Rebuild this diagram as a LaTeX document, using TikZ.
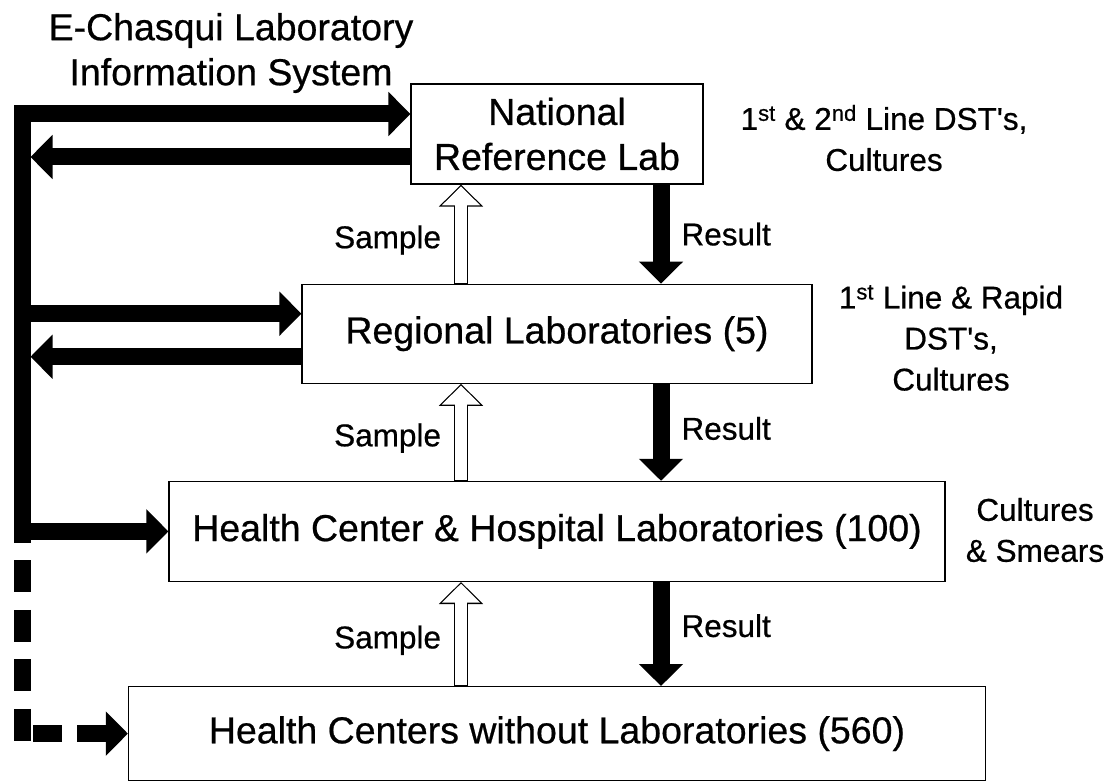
\documentclass[tikz,border=0pt]{standalone}
\usepackage{fontspec}
\setmainfont{Liberation Sans}[FakeBold=0.6]
\usetikzlibrary{positioning}
\usetikzlibrary{arrows.meta}
\tikzset{>={Triangle[length=22pt,width=43pt]}}

\begin{document}
\begin{tikzpicture}[x=1pt, y=1pt, labbox/.style={draw=black, line width=1.2pt, align=center, inner sep=0pt, font=\fontsize{37.5pt}{45pt}\selectfont}, note/.style={align=center, inner sep=0pt, font=\fontsize{31.5pt}{41pt}\selectfont}, tag/.style={inner sep=2pt, font=\fontsize{31.5pt}{38pt}\selectfont}, bus/.style={line width=17pt, line join=miter}, result/.style={line width=17pt, ->}, sample/.style={line width=14pt, ->, postaction={draw=white, line width=11.4pt, shorten <=1pt, shorten >=1.7pt, -{Triangle[length=19pt,width=37pt]}}}]

    \useasboundingbox (0,0) rectangle (1110,780);

    %Nodes
    \node[labbox, minimum width=292pt, minimum height=100pt](nrl) at (557,646){National\\Reference Lab};
    \node[labbox, minimum width=510pt, minimum height=99pt](reg)[below=99pt of nrl]{Regional Laboratories (5)};
    \node[labbox, minimum width=776pt, minimum height=100pt](hch)[below=97pt of reg]{Health Center \& Hospital Laboratories (100)};
    \node[labbox, minimum width=857pt, minimum height=94pt](hcw)[below=104pt of hch]{Health Centers without Laboratories (560)};
    \node[note, font=\fontsize{37.5pt}{45pt}\selectfont](title) at (231,727){E-Chasqui Laboratory\\Information System};
    \node[note](nrlnote) at (884,642){1\textsuperscript{st} \& 2\textsuperscript{nd} Line DST\textquotesingle s,\\Cultures};
    \node[note](regnote) at (951,442){1\textsuperscript{st} Line \& Rapid\\DST\textquotesingle s,\\Cultures};
    \node[note](hchnote) at (1035,250){Cultures\\\& Smears};

    %Coordinates
    \coordinate (bus) at (22,0);
    \coordinate (scol) at (461,0);
    \coordinate (rcol) at (661,0);
    \coordinate (nrlin) at ([yshift=20pt]nrl.west);
    \coordinate (nrlout) at ([yshift=-23pt]nrl.west);
    \coordinate (regin) at ([yshift=20pt]reg.west);
    \coordinate (regout) at ([yshift=-23pt]reg.west);
    \coordinate (buscorner) at (hcw.west -| bus);

    %Lines
    \draw[bus, <->] (nrlin) -| (hch.west -| bus) -- (hch.west);
    \draw[bus, ->, shorten >=8.5pt] (nrlout) -- (nrlout -| bus);
    \draw[bus, ->] (regin -| bus) -- (regin);
    \draw[bus, ->, shorten >=8.5pt] (regout) -- (regout -| bus);
    \draw[bus, dash pattern=on 32pt off 17.5pt, dash phase=20.5pt] (hch.west -| bus) -- ([yshift=-8.5pt]buscorner);
    \draw[bus, dash pattern=on 29pt off 15pt, ->] ([xshift=11pt]buscorner) -- (hcw.west);

    \draw[sample] (reg.north -| scol) -- node[tag, left=11pt, pos=.44]{Sample} (nrl.south -| scol);
    \draw[result] (nrl.south -| rcol) -- node[tag, right=10pt, pos=.5]{Result} (reg.north -| rcol);
    \draw[sample] (hch.north -| scol) -- node[tag, left=11pt, pos=.44]{Sample} (reg.south -| scol);
    \draw[result] (reg.south -| rcol) -- node[tag, right=10pt, pos=.46]{Result} (hch.north -| rcol);
    \draw[sample] (hcw.north -| scol) -- node[tag, left=11pt, pos=.44]{Sample} (hch.south -| scol);
    \draw[result] (hch.south -| rcol) -- node[tag, right=10pt, pos=.42]{Result} (hcw.north -| rcol);

\end{tikzpicture}
\end{document}
